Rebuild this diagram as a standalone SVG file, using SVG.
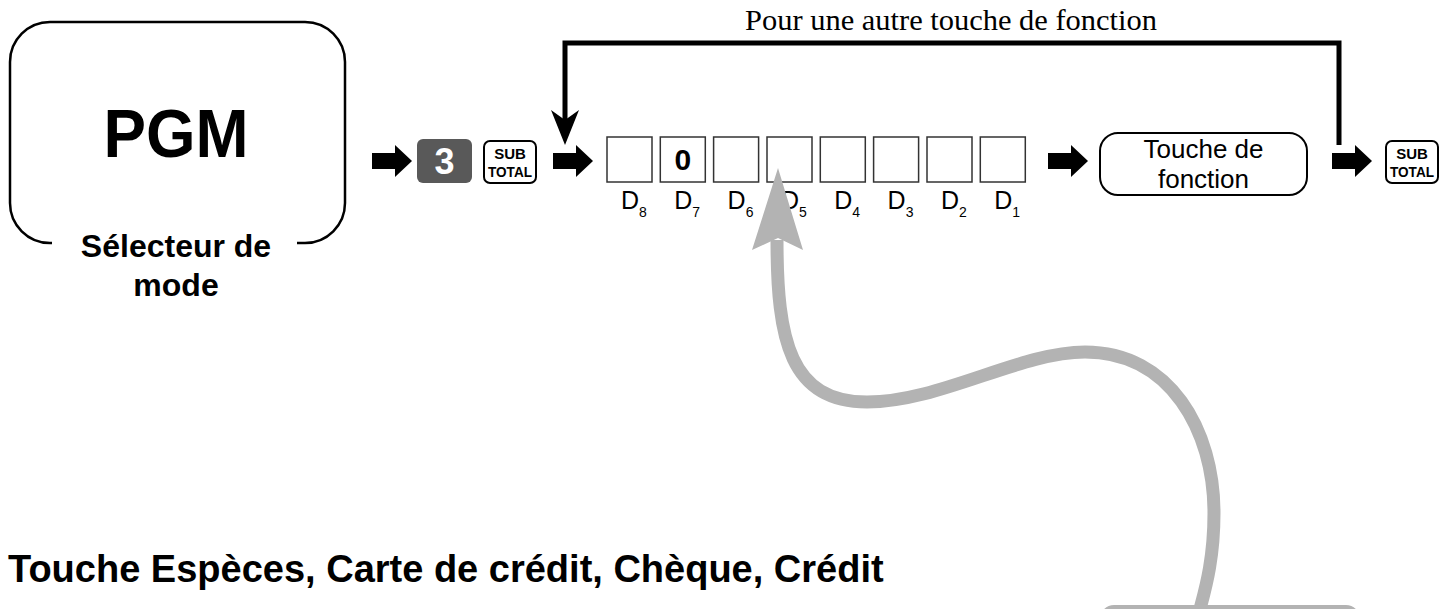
<svg xmlns="http://www.w3.org/2000/svg" width="1445" height="609" viewBox="0 0 1445 609">
<style>
.sans{font-family:"Liberation Sans",Arial,sans-serif;}
.serif{font-family:"Liberation Serif","Times New Roman",serif;}
.b{font-weight:bold;}
.box{fill:#fff;stroke:#333;stroke-width:1.5;}
.key{fill:#fff;stroke:#000;stroke-width:2;}
.lbl{font-family:"Liberation Sans",Arial,sans-serif;font-size:25px;fill:#000;}
.sub{font-size:14px;}
.kt{font-family:"Liberation Sans",Arial,sans-serif;font-weight:bold;font-size:15px;}
</style>
<defs>
<path id="blk" d="M0 -8 H23 V-16 L40 0 L23 16 V8 H0 Z" fill="#000"/>
</defs>
<rect width="1445" height="609" fill="#fff"/>

<g id="mode-selector">
<path d="M 52 243 H 50 A 40 40 0 0 1 10 203 V 62 A 40 40 0 0 1 50 22 H 305 A 40 40 0 0 1 345 62 V 203 A 40 40 0 0 1 305 243 H 297" fill="none" stroke="#000" stroke-width="2.5"/>
<text x="176" y="157" text-anchor="middle" class="sans b" font-size="68" textLength="145" lengthAdjust="spacingAndGlyphs">PGM</text>
<text x="176" y="257" text-anchor="middle" class="sans b" font-size="32">Sélecteur de</text>
<text x="176" y="296" text-anchor="middle" class="sans b" font-size="32">mode</text>
</g>

<g id="key-3">
<rect x="417" y="139" width="55" height="44" rx="6" fill="#595959"/>
<text x="444.5" y="174" text-anchor="middle" class="sans b" font-size="36" fill="#fff">3</text>
</g>

<g id="subtotal-1">
<rect x="484" y="141" width="52" height="42" rx="6" class="key"/>
<text x="510" y="159" text-anchor="middle" class="kt">SUB</text>
<text x="510" y="177" text-anchor="middle" class="kt" textLength="44" lengthAdjust="spacingAndGlyphs">TOTAL</text>
</g>

<g id="digits">
<rect x="607" y="137" width="45" height="45" class="box"/>
<rect x="660.3" y="137" width="45" height="45" class="box"/>
<rect x="713.6" y="137" width="45" height="45" class="box"/>
<rect x="767" y="137" width="45" height="45" class="box"/>
<rect x="820.3" y="137" width="45" height="45" class="box"/>
<rect x="873.6" y="137" width="45" height="45" class="box"/>
<rect x="927" y="137" width="45" height="45" class="box"/>
<rect x="980.3" y="137" width="45" height="45" class="box"/>
<text x="682.8" y="170" text-anchor="middle" class="sans b" font-size="30">0</text>
<text x="621" y="209" class="lbl">D<tspan class="sub" dy="8">8</tspan></text>
<text x="674.3" y="209" class="lbl">D<tspan class="sub" dy="8">7</tspan></text>
<text x="727.6" y="209" class="lbl">D<tspan class="sub" dy="8">6</tspan></text>
<text x="781" y="209" class="lbl">D<tspan class="sub" dy="8">5</tspan></text>
<text x="834.3" y="209" class="lbl">D<tspan class="sub" dy="8">4</tspan></text>
<text x="887.6" y="209" class="lbl">D<tspan class="sub" dy="8">3</tspan></text>
<text x="941" y="209" class="lbl">D<tspan class="sub" dy="8">2</tspan></text>
<text x="994.3" y="209" class="lbl">D<tspan class="sub" dy="8">1</tspan></text>
</g>

<g id="function-key">
<rect x="1100" y="133" width="207" height="62" rx="18" fill="#fff" stroke="#000" stroke-width="2"/>
<text x="1203.5" y="158" text-anchor="middle" class="sans" font-size="26">Touche de</text>
<text x="1203.5" y="188" text-anchor="middle" class="sans" font-size="26">fonction</text>
</g>

<g id="subtotal-2">
<rect x="1386" y="141" width="52" height="42" rx="6" class="key"/>
<text x="1412" y="159" text-anchor="middle" class="kt">SUB</text>
<text x="1412" y="177" text-anchor="middle" class="kt" textLength="44" lengthAdjust="spacingAndGlyphs">TOTAL</text>
</g>

<g id="title">
<text x="8" y="582" class="sans b" font-size="38">Touche Espèces, Carte de crédit, Chèque, Crédit</text>
</g>

<g id="gray-box">
<rect x="1100" y="605" width="260" height="30" rx="14" fill="#b3b3b3"/>
</g>

<g id="connectors">
<use href="#blk" x="372" y="161"/>
<use href="#blk" x="553" y="161"/>
<use href="#blk" x="1048" y="161"/>
<use href="#blk" x="1332" y="161"/>
<path d="M 1339 145 V 43 H 565 V 125" fill="none" stroke="#000" stroke-width="5"/>
<path d="M 565 145 L 551 110 L 565 120 L 579 110 Z" fill="#000"/>
<text x="951" y="30" text-anchor="middle" class="serif" font-size="30" textLength="412" lengthAdjust="spacingAndGlyphs">Pour une autre touche de fonction</text>
<path d="M 1200 609 C 1205 590, 1214 560, 1214 513 C 1214 430, 1170 352, 1085 352 C 1020 352, 940 402, 867 402 C 790 402, 777 340, 777 240" fill="none" stroke="#b3b3b3" stroke-width="13"/>
<path d="M 778 168 L 752 250 L 778 238 L 803 250 Z" fill="#b3b3b3"/>
</g>
</svg>
